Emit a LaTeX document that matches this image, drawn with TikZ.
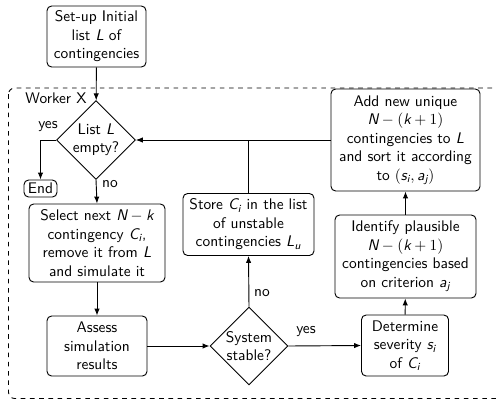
\documentclass[tikz,border=0pt]{standalone}
\usepackage{amstext}
\usepackage{sansmath}
\usetikzlibrary{shapes.geometric,arrows.meta}
\newcommand\pxu{0.65pt}
\newcommand\mv[1]{\textsl{#1}}
\begin{document}
\begin{tikzpicture}[x=0.65pt,y=-0.65pt,font=\sffamily\sansmath,
  box/.style={draw, rounded corners=3pt, align=center, inner sep=1pt, semithick},
  dia/.style={draw, diamond, aspect=1, inner sep=0pt, align=center, semithick},
  arr/.style={-{Latex[length=4.5pt,width=3.5pt]}, semithick},
  lab/.style={inner sep=1pt}]
\useasboundingbox (0,0) rectangle (496,399);
\draw[dashed, semithick, rounded corners=4pt] (8.5,88) rectangle (510,398.5);
\node[anchor=west] (worker) at (20,98) {Worker X};
\node[box, minimum width=99*\pxu, minimum height=61*\pxu] (setup) at (96.5,36.5) {Set-up Initial\\list \mv{L} of\\contingencies};
\node[dia, minimum width=78*\pxu, minimum height=76*\pxu] (empty) at (96,140) {List \mv{L}\\empty?};
\node[box, minimum width=33*\pxu, minimum height=17*\pxu] (end) at (40.5,188.5) {End};
\node[box, minimum width=136*\pxu, minimum height=78*\pxu] (select) at (97,243) {Select next $\mv{N}-\mv{k}$\\contingency $\mv{C}_{\mv{i}}$,\\remove it from \mv{L}\\and simulate it};
\node[box, minimum width=100*\pxu, minimum height=60*\pxu] (assess) at (97,346) {Assess\\simulation\\results};
\node[dia, minimum width=78*\pxu, minimum height=78*\pxu] (stable) at (249,346) {System\\stable?};
\node[box, minimum width=131*\pxu, minimum height=62*\pxu] (store) at (248.5,224.5) {Store $\mv{C}_{\mv{i}}$ in the list\\of unstable\\contingencies $\mv{L}_{\mv{u}}$};
\node[box, minimum width=87*\pxu, minimum height=61*\pxu] (det) at (405,345.5) {Determine\\severity $\mv{s}_{\mv{i}}$\\of $\mv{C}_{\mv{i}}$};
\node[box, minimum width=141*\pxu, minimum height=83*\pxu] (ident) at (405.5,256.5) {Identify plausible\\$\mv{N}-(\mv{k}+1)$\\contingencies based\\on criterion $\mv{a}_{\mv{j}}$};
\node[box, minimum width=149*\pxu, minimum height=102*\pxu] (add) at (405.5,140) {Add new unique\\$\mv{N}-(\mv{k}+1)$\\contingencies to \mv{L}\\and sort it according\\to $(\mv{s}_{\mv{i}},\mv{a}_{\mv{j}})$};
\draw[arr] (setup) -- (empty);
\draw[arr] (empty.west) -| (end.north);
\node[lab] (yes1) at (48,127) {yes};
\draw[arr] (empty.south) -- (select.north);
\node[lab] (no1) at (110,184) {no};
\draw[arr] (select) -- (assess);
\draw[arr] (assess) -- (stable);
\draw[arr] (stable.north) -- (store.south);
\node[lab] (no2) at (262,293) {no};
\draw[arr] (stable.east) -- (det.west);
\node[lab] (yes2) at (306,332) {yes};
\draw[arr] (det) -- (ident);
\draw[arr] (ident) -- (add);
\draw[arr] (add.west) -- (empty.east);
\draw[semithick] (store.north) -- (store.north |- add.west);
\end{tikzpicture}
\end{document}
